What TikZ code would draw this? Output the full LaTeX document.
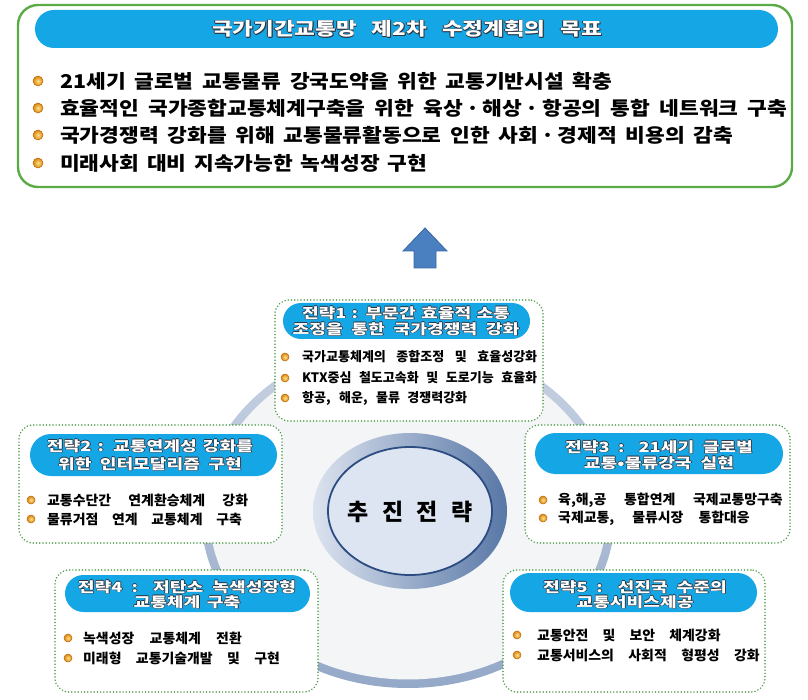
\documentclass[tikz,border=0pt]{standalone}
\usepackage{fontspec}
\usepackage{graphicx}
\setmainfont{Noto Sans CJK KR}
\usetikzlibrary{shapes.misc,shapes.geometric}
\definecolor{topgreen}{HTML}{5AAA46}
\definecolor{dotgreen}{HTML}{4E9C48}
\definecolor{pillblue}{HTML}{14A6E5}
\definecolor{olc}{HTML}{2B3440}
\definecolor{bulin}{HTML}{FFE08A}
\definecolor{bulout}{HTML}{D9860F}
\definecolor{bulrim}{HTML}{B86A0A}
\definecolor{ringlt}{HTML}{C9D3E3}
\definecolor{ringdk}{HTML}{94A8C8}
\definecolor{innergray}{HTML}{F4F5F7}
\definecolor{corelt}{HTML}{DCE3EF}
\definecolor{coredk}{HTML}{5877A6}
\definecolor{corefill}{HTML}{DDE5F2}
\definecolor{coreline}{HTML}{2D4C82}
\definecolor{arrowblue}{HTML}{4A7FC0}
\definecolor{arrowline}{HTML}{3A67A6}
\newcommand{\olt}[1]{{\setbox0=\hbox{#1}%
\rlap{\kern0.75pt\raisebox{-0.75pt}{\textcolor{olc}{\copy0}}}%
\rlap{\kern-0.6pt\textcolor{olc}{\copy0}}%
\rlap{\kern0.6pt\textcolor{olc}{\copy0}}%
\rlap{\raisebox{0.6pt}{\textcolor{olc}{\copy0}}}%
\rlap{\raisebox{-0.6pt}{\textcolor{olc}{\copy0}}}%
\textcolor{white}{\copy0}}}
% #1 horizontal scale, #2 width before scaling, #3 text
\newcommand{\sws}[3]{\scalebox{#1}[1]{\makebox[#2][s]{#3}}}
\newcommand{\myhd}{\fontsize{18}{18}\selectfont\bfseries}
\newcommand{\mytop}{\fontsize{19}{19}\selectfont\bfseries}
\newcommand{\mybox}{\fontsize{13.5}{13.5}\selectfont\bfseries}
\newcommand{\myboxa}{\fontsize{13}{13}\selectfont\bfseries}
\newcommand{\myttl}{\fontsize{14}{14}\selectfont\bfseries}
\newcommand{\mycore}{\fontsize{23}{23}\selectfont\bfseries}
\begin{document}
\begin{tikzpicture}[x=1pt,y=-1pt,
  stratbox/.style={draw=dotgreen, line width=1.7pt, dash pattern=on 0.01pt off 3.2pt, line cap=round, rounded corners=14pt, fill=white, inner sep=0pt},
  pillnode/.style={rounded rectangle, fill=pillblue, inner sep=0pt},
  dotbul/.style={circle, inner sep=0pt, minimum size=8pt, inner color=bulin, outer color=bulout, draw=bulrim, line width=0.5pt},
  btxt/.style={anchor=west, inner sep=0pt, text=black, font=\mybox},
  gtxt/.style={anchor=west, inner sep=0pt, text=black, font=\mytop},
  ttl/.style={inner sep=0pt, font=\myttl}]
\useasboundingbox (0,0) rectangle (808,700);

% big ring
\node[ellipse, minimum width=414, minimum height=348, inner sep=0pt, top color=ringlt, bottom color=ringdk] (ring) at (408,514) {};
\node[ellipse, minimum width=397, minimum height=331, inner sep=0pt, fill=innergray] (ringin) at (408,514) {};

% top goal box
\node[draw=topgreen, line width=2.4pt, rounded corners=20pt, fill=white, minimum width=774, minimum height=182, inner sep=0pt] (goal) at (405,96) {};
\node[pillnode, minimum width=743, minimum height=38] (goalhead) at (406.5,29) {};
\node[ttl, font=\myhd] (goaltitle) at (407,29) {\olt{\sws{1.25}{312pt}{국가기간교통망 제2차 수정계획의 목표}}};
\node[dotbul, minimum size=10pt] (g1d) at (38,81) {};
\node[gtxt] (g1) at (60,81) {\sws{1.13}{488.5pt}{21세기 글로벌 교통물류 강국도약을 위한 교통기반시설 확충}};
\node[dotbul, minimum size=10pt] (g2d) at (38,108) {};
\node[gtxt] (g2) at (60,108) {\sws{1.13}{643.4pt}{효율적인 국가종합교통체계구축을 위한 육상\kern3pt·\kern3pt해상\kern3pt·\kern3pt항공의 통합 네트워크 구축}};
\node[dotbul, minimum size=10pt] (g3d) at (38,135) {};
\node[gtxt] (g3) at (60,135) {\sws{1.13}{595.6pt}{국가경쟁력 강화를 위해 교통물류활동으로 인한 사회\kern3pt·\kern3pt경제적 비용의 감축}};
\node[dotbul, minimum size=10pt] (g4d) at (38,163) {};
\node[gtxt] (g4) at (60,163) {\sws{1.13}{324.8pt}{미래사회 대비 지속가능한 녹색성장 구현}};

% arrow
\filldraw[fill=arrowblue, draw=arrowline, line width=0.8pt] (425,228) -- (447,251) -- (436,251) -- (436,268) -- (414,268) -- (414,251) -- (403,251) -- cycle;

% strategy 1
\node[stratbox, minimum width=268, minimum height=121] (b1) at (409,360.5) {};
\node[pillnode, minimum width=247, minimum height=36] (p1) at (406.5,321) {};
\node[ttl] (t1a) at (406,313) {\olt{\sws{1.3}{160pt}{전략1 : 부문간 효율적 소통}}};
\node[ttl] (t1b) at (406,329) {\olt{\sws{1.3}{174.6pt}{조정을 통한 국가경쟁력 강화}}};
\node[dotbul] (b1d1) at (285,357) {};
\node[btxt, font=\myboxa] (b1l1) at (302,357) {\sws{1}{235pt}{국가교통체계의 종합조정 및 효율성강화}};
\node[dotbul] (b1d2) at (285,378) {};
\node[btxt, font=\myboxa] (b1l2) at (302,378) {\sws{1}{235pt}{KTX중심 철도고속화 및 도로기능 효율화}};
\node[dotbul] (b1d3) at (285,398) {};
\node[btxt, font=\myboxa] (b1l3) at (302,398) {\sws{1}{165pt}{항공, 해운, 물류 경쟁력강화}};

% strategy 2
\node[stratbox, minimum width=263, minimum height=118] (b2) at (150.5,484) {};
\node[pillnode, minimum width=247, minimum height=42] (p2) at (153.5,455) {};
\node[ttl] (t2a) at (150,446) {\olt{\sws{1.3}{158.5pt}{전략2 : 교통연계성 강화를}}};
\node[ttl] (t2b) at (150,464) {\olt{\sws{1.3}{141.5pt}{위한 인터모달리즘 구현}}};
\node[dotbul] (b2d1) at (31,500) {};
\node[btxt] (b2l1) at (47,500) {\sws{1.03}{195pt}{교통수단간 연계환승체계 강화}};
\node[dotbul] (b2d2) at (31,519) {};
\node[btxt] (b2l2) at (47,519) {\sws{1.03}{189pt}{물류거점 연계 교통체계 구축}};

% strategy 3
\node[stratbox, minimum width=265, minimum height=118] (b3) at (657.5,484) {};
\node[pillnode, minimum width=248, minimum height=41] (p3) at (659,453.5) {};
\node[ttl] (t3a) at (659,447) {\olt{\sws{1.3}{144.6pt}{전략3 : 21세기 글로벌}}};
\node[ttl] (t3b) at (659,463) {\olt{\sws{1.3}{115.4pt}{교통•물류강국 실현}}};
\node[dotbul] (b3d1) at (543,500) {};
\node[btxt] (b3l1) at (558,500) {\sws{1.03}{218pt}{육,해,공 통합연계 국제교통망구축}};
\node[dotbul] (b3d2) at (543,518) {};
\node[btxt] (b3l2) at (558,518) {\sws{1.03}{186pt}{국제교통, 물류시장 통합대응}};

% strategy 4
\node[stratbox, minimum width=263, minimum height=122] (b4) at (186.5,631) {};
\node[pillnode, minimum width=245, minimum height=37] (p4) at (187.5,593.5) {};
\node[ttl] (t4a) at (187,587) {\olt{\sws{1.3}{167.7pt}{전략4 : 저탄소 녹색성장형}}};
\node[ttl] (t4b) at (187,602) {\olt{\sws{1.3}{82.3pt}{교통체계 구축}}};
\node[dotbul] (b4d1) at (68,638) {};
\node[btxt] (b4l1) at (83,638) {\sws{1.03}{154pt}{녹색성장 교통체계 전환}};
\node[dotbul] (b4d2) at (68,658) {};
\node[btxt] (b4l2) at (83,658) {\sws{1.03}{191pt}{미래형 교통기술개발 및 구현}};

% strategy 5
\node[stratbox, minimum width=262, minimum height=122] (b5) at (634,631) {};
\node[pillnode, minimum width=247, minimum height=39] (p5) at (633.5,592.5) {};
\node[ttl] (t5a) at (635,587) {\olt{\sws{1.3}{141.5pt}{전략5 : 선진국 수준의}}};
\node[ttl] (t5b) at (635,602) {\olt{\scalebox{1.3}[1]{교통서비스제공}}};
\node[dotbul] (b5d1) at (517,635) {};
\node[btxt] (b5l1) at (537,635) {\sws{1.03}{178pt}{교통안전 및 보안 체계강화}};
\node[dotbul] (b5d2) at (517,655) {};
\node[btxt] (b5l2) at (537,655) {\sws{1.03}{216pt}{교통서비스의 사회적 형평성 강화}};

% center
\node[ellipse, minimum width=194, minimum height=156, inner sep=0pt, left color=corelt, right color=coredk] (core) at (410,511) {};
\node[ellipse, minimum width=164, minimum height=128, inner sep=0pt, fill=corefill, draw=coreline, line width=1.8pt] (coreinner) at (410,511) {};
\node[font=\mycore, inner sep=0pt] (coretext) at (410,512) {\sws{1}{125pt}{추 진 전 략}};
\end{tikzpicture}
\end{document}
